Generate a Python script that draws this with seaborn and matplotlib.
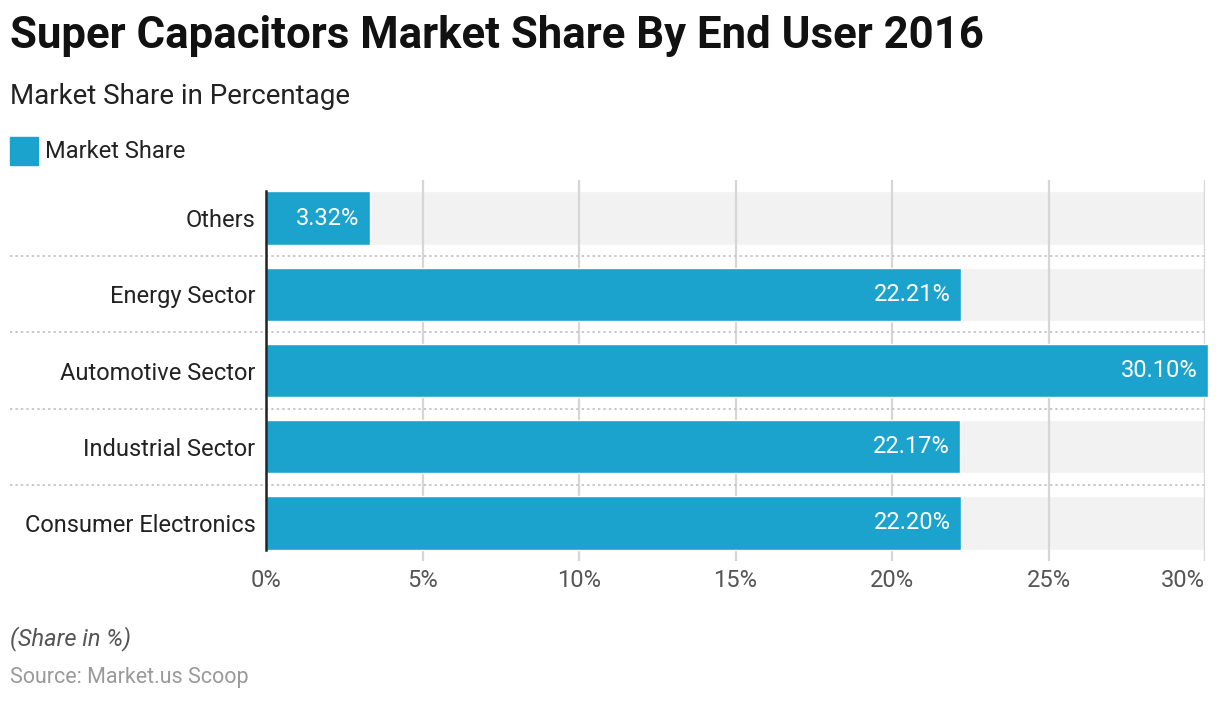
import matplotlib
matplotlib.use("Agg")
import matplotlib.pyplot as plt
import seaborn as sns
import pandas as pd

# data
categories = ["Others", "Energy Sector", "Automotive Sector", "Industrial Sector", "Consumer Electronics"]
share = [3.32, 22.21, 30.10, 22.17, 22.20]
x_ticks = [0, 5, 10, 15, 20, 25, 30]

blue = "#1ba2cd"

sns.set_theme(style="white")
plt.rcParams["font.family"] = ["Roboto", "DejaVu Sans"]

df = pd.DataFrame({"End User": categories, "Market Share": share})

fig = plt.figure(figsize=(12.2, 7.02), dpi=100)
ax = fig.add_axes([266 / 1220, 1 - 561 / 702, 939 / 1220, 381 / 702])

# grey background bands behind every bar
ax.barh(range(len(categories)), [x_ticks[-1]] * len(categories), height=0.7,
        color="#f2f2f2", zorder=0)

sns.barplot(data=df, x="Market Share", y="End User", orient="h", color=blue,
            width=0.7, saturation=1, ax=ax, zorder=3)
for p in ax.patches[len(categories):]:
    p.set_clip_on(False)

ax.set_xlim(0, 30)
ax.set_ylim(len(categories) - 0.5, -0.5)
ax.set_xticks(x_ticks)
ax.set_xticklabels([f"{t}%" for t in x_ticks])
ax.get_xticklabels()[-1].set_ha("right")
ax.get_xticklabels()[-1].set_x(30.7)
ax.set_xlabel("")
ax.set_ylabel("")

# vertical grid lines
for t in x_ticks[1:]:
    ax.axvline(t, color="#d6d6d6", lw=1.6, zorder=1)

# dotted separators between rows
for i in range(len(categories) - 1):
    ax.plot([-8.18, 30], [i + 0.5, i + 0.5], color="#c8c8c8", lw=1.4,
            ls=(0, (1.2, 1.6)), clip_on=False, zorder=1)

for s in ["top", "right", "bottom"]:
    ax.spines[s].set_visible(False)
ax.spines["left"].set_color("#222222")
ax.spines["left"].set_linewidth(1.8)
ax.spines["left"].set_zorder(5)
ax.spines["left"].set_bounds(-0.35, len(categories) - 0.65)

ax.tick_params(axis="y", length=0, pad=7.5, labelsize=17, labelcolor="#222222")
ax.tick_params(axis="x", length=0, pad=6, labelsize=17, labelcolor="#555555")

# value labels inside bars
for i, v in enumerate(share):
    ax.text(v - 0.33, i, f"{v:.2f}%", ha="right", va="center", color="white",
            fontsize=17, zorder=6)

# titles, legend, footer
fig.text(10 / 1220, 1 - 36 / 702, "Super Capacitors Market Share By End User 2016",
         fontsize=31.5, fontweight="bold", color="#111111", va="center")
fig.text(10 / 1220, 1 - 97 / 702, "Market Share in Percentage",
         fontsize=20, color="#222222", va="center")
fig.patches.append(plt.Rectangle((10 / 1220, 1 - 165 / 702), 28 / 1220, 28 / 702,
                                 transform=fig.transFigure, color=blue))
fig.text(45 / 1220, 1 - 151 / 702, "Market Share", fontsize=17, color="#222222", va="center")
fig.text(10 / 1220, 1 - 639 / 702, "(Share in %)", fontsize=17, style="italic",
         color="#555555", va="center")
fig.text(10 / 1220, 1 - 677 / 702, "Source: Market.us Scoop", fontsize=15.5,
         color="#9a9a9a", va="center")

fig.savefig("out.png", dpi=100)
